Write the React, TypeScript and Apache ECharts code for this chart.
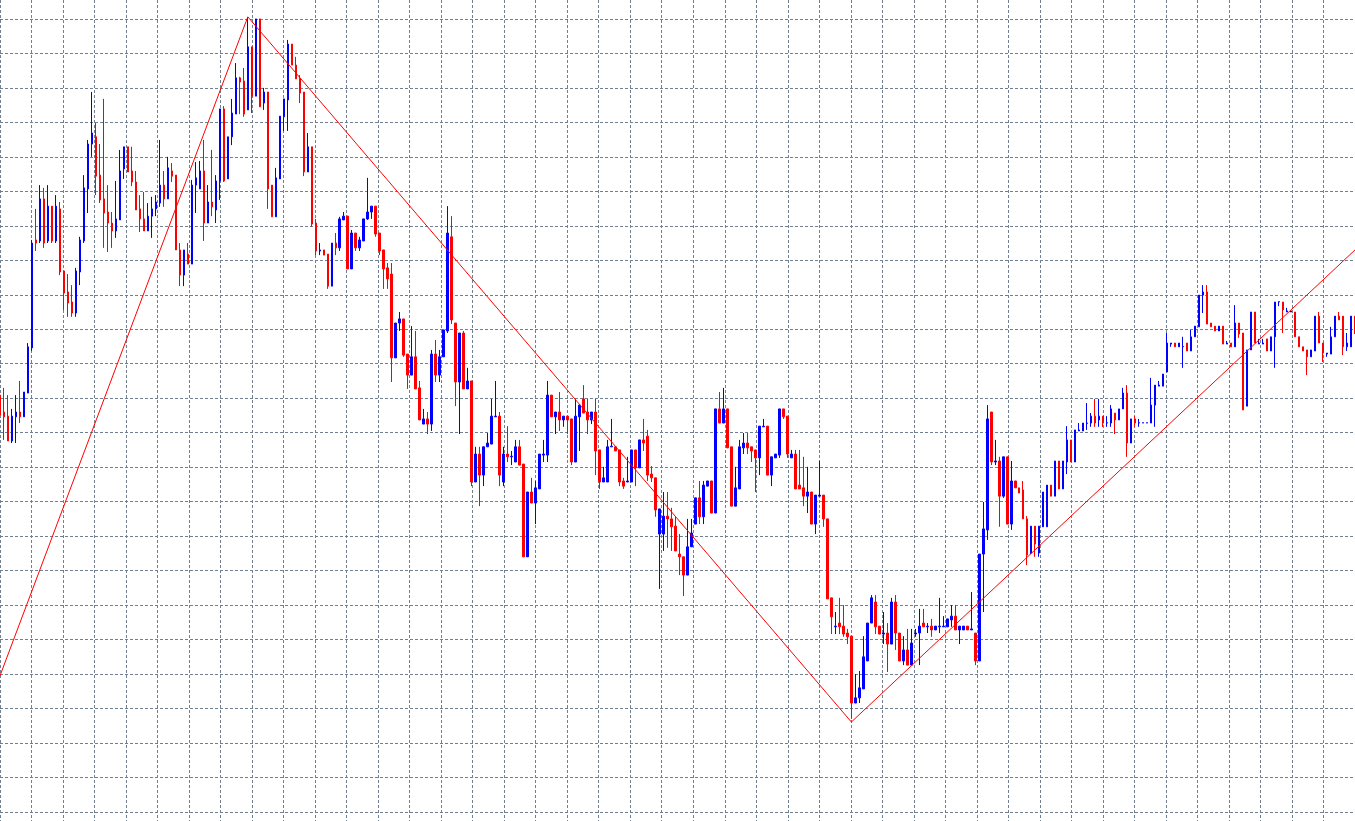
import React, { useEffect, useRef } from "react";
import * as echarts from "echarts";

// Price values (1 grid step = 10 units)
const open = [
  120.9,116.0,114.8,107.6,114.6,116.0,114.6,121.5,134.6,165.9,
  165.6,177.8,165.6,175.7,165.6,174.9,156.9,150.8,147.9,144.7,
  156.6,165.6,180.7,193.7,195.8,184.7,177.8,174.0,170.8,168.5,
  171.7,186.5,192.9,185.9,182.7,174.9,172.0,168.5,172.8,174.9,
  176.6,181.8,177.8,185.9,184.7,163.0,155.7,161.8,158.9,181.8,
  180.7,185.9,170.8,176.9,174.6,183.0,203.9,183.6,195.8,202.4,
  212.9,212.0,203.6,221.9,207.6,230.0,205.6,208.8,181.8,172.6,
  183.6,201.6,206.5,222.7,216.6,212.6,208.8,185.6,192.9,170.8,
  162.7,163.0,161.8,152.5,165.0,163.6,171.7,172.8,157.5,167.9,
  163.6,165.6,172.0,174.0,175.7,167.9,163.0,157.8,156.0,131.7,
  141.8,143.0,132.8,126.7,132.0,123.0,112.5,114.0,112.5,132.8,
  126.7,132.0,139.5,166.8,141.8,124.7,138.9,122.7,125.0,95.7,
  103.8,97.7,105.9,106.7,114.6,114.8,95.7,103.8,103.0,101.5,
  105.9,100.9,74.0,92.8,89.6,93.7,103.5,103.5,120.9,114.6,
  116.0,113.7,114.8,114.0,101.5,114.6,119.8,116.0,113.7,116.0,
  105.0,95.7,95.7,105.9,105.9,105.0,96.0,95.7,95.7,105.0,
  99.8,107.9,109.0,98.0,96.9,80.6,80.6,85.8,85.0,82.9,
  74.8,74.0,68.7,76.9,83.5,91.1,85.6,94.5,96.0,86.7,
  116.9,112.8,116.9,105.9,88.7,93.7,105.6,107.0,105.9,105.0,
  102.7,111.7,111.9,97.7,102.7,103.5,116.9,114.8,102.7,103.8,
  94.8,94.0,91.6,92.8,83.5,91.6,91.9,85.0,62.1,53.7,
  54.8,53.9,51.9,51.0,31.6,33.1,35.7,43.8,54.8,60.9,
  53.9,51.6,51.9,48.7,60.9,51.9,43.8,47.0,42.6,51.6,
  51.9,54.8,53.7,53.9,52.8,53.7,53.7,53.7,55.7,56.8,
  52.8,52.8,53.9,52.8,51.9,43.8,74.8,81.8,116.0,101.5,
  101.8,91.6,103.0,83.5,96.0,94.0,93.4,85.0,75.1,82.9,
  75.1,82.7,82.7,94.8,91.6,101.8,93.7,101.5,107.9,101.5,
  110.5,110.5,112.7,112.8,114.8,113.7,114.8,112.8,112.8,115.7,
  113.7,116.9,121.5,107.0,114.0,112.8,112.8,112.8,112.8,118.0,
  123.5,123.5,127.6,135.7,136.0,134.9,134.9,136.0,133.7,137.8,
  140.7,149.9,150.8,141.8,140.9,139.5,140.9,135.7,136.0,134.9,
  141.8,138.9,117.7,134.0,145.0,135.7,135.7,137.2,133.7,137.8,
  147.9,147.9,145.0,145.0,145.0,137.8,134.9,134.0,132.0,133.7,
  143.8,136.0,132.8,132.8,137.8,143.8,143.8,134.9,134.9,143.8,
];

const close = [
  115.1,114.6,107.6,114.8,116.0,114.6,121.8,134.9,165.0,165.0,
  177.8,165.0,175.7,165.6,175.7,156.6,150.5,147.6,144.7,156.9,
  165.9,181.0,193.7,196.9,184.4,177.5,173.7,170.8,168.5,172.0,
  185.9,192.9,185.6,182.7,174.6,172.0,168.5,172.8,174.9,176.9,
  181.8,177.8,186.8,184.4,163.0,155.7,163.0,158.9,181.8,183.9,
  185.9,170.8,176.9,175.5,183.0,203.9,183.0,195.8,202.7,212.9,
  211.7,202.4,221.9,207.6,230.0,204.5,208.8,180.7,172.6,183.9,
  201.8,206.8,222.7,216.6,212.6,208.5,185.6,192.9,170.5,162.7,
  163.0,161.5,152.5,165.0,163.6,172.0,172.8,157.5,167.9,163.6,
  165.9,172.0,174.0,175.7,167.6,162.7,157.5,154.6,131.7,141.8,
  143.0,132.5,126.7,132.0,122.7,113.7,114.0,112.5,132.8,126.7,
  132.0,139.8,167.9,142.7,124.7,138.9,122.7,125.0,95.7,103.8,
  97.7,105.9,107.0,114.8,114.8,97.7,103.8,103.0,103.2,105.9,
  100.6,74.0,92.8,89.6,94.0,103.8,103.8,120.9,114.6,116.0,
  113.7,114.8,113.7,101.5,114.8,118.0,115.7,113.7,116.0,104.7,
  95.7,96.9,105.9,106.1,104.7,95.7,94.5,96.0,105.0,99.8,
  107.9,107.0,97.7,96.9,87.6,87.9,85.8,85.0,82.7,75.7,
  74.0,68.7,76.9,80.9,91.1,85.6,94.8,96.0,86.7,116.9,
  112.8,116.9,105.6,88.7,94.0,105.9,107.0,105.6,104.7,102.7,
  111.9,111.9,97.7,103.0,103.8,116.9,114.6,103.8,103.8,93.7,
  93.7,91.6,92.8,83.5,91.9,91.9,85.0,61.8,56.6,53.9,
  53.7,51.6,50.8,31.6,33.1,36.0,45.0,54.8,62.1,53.7,
  51.6,51.9,48.7,60.9,51.9,43.8,47.0,42.6,49.0,51.9,
  53.9,53.7,53.9,52.8,53.9,53.9,53.9,56.0,56.8,52.8,
  53.9,53.9,52.8,53.1,43.8,74.8,82.1,114.0,101.5,101.8,
  91.6,103.0,83.5,96.0,94.0,92.5,85.0,74.5,82.9,77.7,
  82.9,92.8,94.8,91.6,101.8,93.7,101.8,107.9,101.5,110.8,
  110.8,112.8,112.8,114.8,112.8,114.8,112.8,112.9,116.9,113.7,
  116.9,121.5,107.0,114.0,112.8,112.9,112.9,112.9,118.0,123.8,
  123.8,127.0,136.0,136.0,134.9,136.0,135.0,133.7,137.8,140.9,
  149.9,150.8,141.5,140.7,139.5,140.9,135.7,136.0,134.9,141.8,
  138.6,116.6,134.0,145.0,136.0,136.0,136.0,133.7,137.8,147.9,
  148.0,145.6,145.3,145.3,137.8,134.9,133.7,132.0,134.0,143.8,
  136.0,133.1,133.1,137.8,143.8,142.7,134.9,136.0,143.8,139.8,
];

const low = [
  107.9,107.9,107.6,107.0,107.0,112.8,114.6,121.5,133.7,162.7,
  165.0,163.6,165.0,165.0,165.0,155.7,145.6,143.6,143.6,143.6,
  152.8,165.0,173.7,190.0,178.9,176.6,163.6,162.4,163.6,166.5,
  171.7,183.6,185.6,181.5,174.6,168.2,168.5,168.5,166.5,172.8,
  175.5,175.5,177.8,182.7,163.0,152.5,152.5,158.9,158.9,173.7,
  180.7,165.6,170.8,172.8,170.8,177.5,182.7,183.6,193.4,202.4,
  202.4,201.6,203.6,202.7,207.6,204.5,203.6,174.9,172.6,172.6,
  183.6,197.5,197.5,216.6,212.6,205.6,184.4,185.6,169.7,161.5,
  161.5,161.5,151.7,152.5,161.5,162.7,171.7,157.5,157.5,162.7,
  162.7,165.6,171.7,172.0,166.8,161.5,151.7,151.7,124.7,131.7,
  139.5,132.0,122.7,126.7,122.7,113.7,112.5,109.6,110.5,124.7,
  124.7,132.0,138.9,141.5,117.7,109.6,122.7,122.7,94.5,95.7,
  88.7,94.5,105.9,106.7,114.6,94.5,94.5,101.5,100.6,101.5,
  100.6,74.0,74.0,89.6,83.5,93.7,101.5,101.5,114.6,109.6,
  110.5,111.7,109.6,100.6,101.5,104.7,115.7,109.6,112.5,97.7,
  93.7,95.7,95.7,105.9,104.7,94.5,93.7,95.7,95.7,94.5,
  99.8,104.7,96.0,95.7,85.6,64.7,75.7,76.6,75.7,75.7,
  68.7,62.6,68.7,76.9,83.5,83.5,83.5,94.5,86.7,86.7,
  112.8,112.8,105.6,88.7,88.7,93.7,103.8,103.8,101.5,92.8,
  97.7,111.7,97.7,94.5,102.7,102.7,114.0,102.7,102.7,93.7,
  93.7,88.7,86.7,83.5,80.6,91.6,82.7,61.8,51.6,51.6,
  51.6,50.8,48.7,27.0,31.6,31.6,35.7,43.8,54.8,51.6,
  51.6,48.7,40.6,48.7,47.0,43.8,42.6,42.6,42.6,50.8,
  42.6,53.7,51.9,50.8,52.8,51.9,53.7,53.7,53.7,52.8,
  48.7,52.8,52.8,52.8,42.6,43.8,58.0,78.9,100.6,100.6,
  82.7,91.1,83.5,81.8,94.0,92.5,85.0,71.6,74.8,74.0,
  74.0,82.7,82.7,91.6,91.6,93.7,93.7,98.0,101.5,101.5,
  110.5,110.5,110.8,111.7,111.7,111.7,111.7,111.7,111.7,109.6,
  113.7,116.9,103.0,107.0,111.7,111.7,112.8,112.8,112.8,111.7,
  123.5,123.5,127.6,134.9,134.9,134.9,128.8,133.7,133.7,137.8,
  140.7,144.7,141.5,140.7,139.5,139.5,135.7,135.7,134.9,134.9,
  137.5,116.6,117.7,134.0,136.0,135.7,135.7,133.7,133.7,128.8,
  146.7,138.9,145.0,145.0,137.8,134.9,133.7,126.7,132.0,133.7,
  136.0,130.5,132.0,132.8,137.8,142.7,132.5,133.7,134.9,138.6,
];

const high = [
  125.3,123.0,120.9,116.9,120.9,125.0,121.8,136.0,165.9,174.9,
  181.8,181.0,181.8,175.7,178.9,176.9,156.9,156.0,152.8,157.8,
  166.8,184.7,194.9,208.8,199.8,193.7,206.8,181.8,174.0,183.0,
  192.0,192.9,192.9,192.9,185.9,178.9,179.8,176.6,178.4,178.9,
  194.9,185.9,190.0,188.2,184.7,165.0,163.0,165.0,183.3,188.5,
  188.8,194.9,181.8,192.0,184.7,203.9,204.7,195.8,206.8,217.2,
  213.2,215.8,230.3,221.9,230.0,230.0,210.0,208.8,181.8,186.8,
  201.8,206.8,223.9,222.7,219.0,213.7,208.8,196.9,192.9,172.0,
  165.0,163.0,161.8,165.0,167.9,172.6,174.0,172.8,168.8,167.9,
  166.8,172.0,183.9,175.7,175.7,167.9,163.0,159.2,159.2,141.8,
  145.0,143.0,132.8,140.9,139.5,125.0,116.9,116.0,134.0,136.9,
  134.0,139.8,175.7,172.8,141.8,138.9,139.5,128.8,125.0,105.9,
  105.9,105.9,109.9,119.8,125.0,116.0,105.9,111.9,104.7,107.9,
  107.9,100.9,92.8,96.9,96.0,103.8,107.9,125.0,120.9,116.0,
  121.8,114.8,114.8,114.0,119.8,118.0,123.8,119.8,116.0,119.8,
  105.0,100.1,107.9,114.0,105.9,105.0,96.9,103.0,105.0,105.0,
  107.9,114.0,110.8,100.3,96.9,87.9,92.8,92.8,88.2,85.6,
  80.6,74.0,85.0,85.0,91.1,96.0,96.0,96.0,96.0,116.9,
  121.8,123.0,116.9,105.9,100.1,107.9,109.9,109.9,105.9,105.0,
  111.9,114.0,111.9,103.0,103.8,116.9,116.9,114.8,105.0,105.0,
  105.0,103.0,100.1,92.8,91.9,101.8,91.9,85.0,62.1,58.0,
  62.1,60.0,53.1,51.0,40.0,40.9,51.0,54.8,62.9,62.9,
  53.9,58.0,54.8,62.1,62.9,51.9,51.0,53.1,53.1,53.1,
  58.9,58.9,54.8,56.0,53.9,62.1,56.8,56.0,60.0,60.0,
  53.9,53.9,53.9,63.8,51.9,74.8,89.9,118.0,116.0,107.9,
  103.0,103.0,103.0,101.8,96.0,94.0,96.0,85.8,82.9,82.9,
  82.9,92.8,94.8,94.8,101.8,101.8,101.8,111.9,107.9,110.8,
  112.8,112.8,118.6,115.7,119.8,119.8,114.8,114.8,118.0,115.7,
  116.9,123.0,123.8,114.0,114.8,114.0,112.9,112.9,125.9,123.8,
  125.0,127.0,138.9,136.0,136.0,136.0,137.8,136.0,139.8,140.9,
  149.9,152.8,152.8,141.8,140.9,140.9,140.9,136.6,136.0,147.0,
  141.8,138.9,134.0,145.0,145.0,137.2,137.2,137.2,137.8,147.9,
  148.0,147.9,146.2,145.3,145.0,137.8,134.9,134.0,134.0,143.8,
  145.0,136.0,133.1,140.7,143.8,145.0,143.8,138.9,143.8,143.8,
];

// Zig-zag trend line (bar index, price)
const trendIndex = [0, 62, 213, 339];
const trendPrice = [39.5, 230.6, 26.1, 163.0];

// Price grid levels
const gridMin = 0;
const gridMax = 230;
const gridStep = 10;

// Time grid: a vertical line every 8 bars, counted from bar 3
const timeGridOffset = 3;
const timeGridStep = 8;

// Visible price range of the window
const priceMin = -2.61;
const priceMax = 235.48;

const categories = open.map((_, i) => String(i));

export default function App() {
  const ref = useRef<HTMLDivElement>(null);

  useEffect(() => {
    document.body.style.margin = "0";
    if (!ref.current) return;
    const chart = echarts.init(ref.current, undefined, { renderer: "svg" });
    const candles = open.map((o, i) => [o, close[i], low[i], high[i]]);
    const trend = trendIndex.map((x, i) => [x, trendPrice[i]]);
    const gridLine = { color: "#708090", width: 1, type: [3, 2] as any };

    const n = categories.length;
    const barPx = 4;
    const firstCenter = -0.7;
    // time-grid axis in "bars since bar 3" units, starting one step earlier
    const tMin = -timeGridStep;
    const tMax = n - 1 - timeGridOffset;

    chart.setOption({
      animation: false,
      backgroundColor: "#ffffff",
      grid: [
        { left: firstCenter, width: (n - 1) * barPx, top: 0, bottom: 0, containLabel: false },
        { left: 0, right: 0, top: 18.9, bottom: 9, containLabel: false },
        {
          left: firstCenter + (tMin + timeGridOffset) * barPx,
          width: (tMax - tMin) * barPx,
          top: 0,
          bottom: 0,
          containLabel: false,
        },
      ],
      xAxis: [
        {
          type: "category",
          gridIndex: 0,
          data: categories,
          boundaryGap: false,
          show: false,
        },
        { type: "value", gridIndex: 0, min: 0, max: n - 1, show: false },
        { type: "value", gridIndex: 1, min: 0, max: 1, show: false },
        {
          type: "value",
          gridIndex: 2,
          min: tMin,
          max: tMax,
          interval: timeGridStep,
          axisLine: { show: false },
          axisTick: { show: false },
          axisLabel: { show: false },
          splitLine: { show: true, lineStyle: gridLine },
        },
      ],
      yAxis: [
        { type: "value", gridIndex: 0, min: priceMin, max: priceMax, show: false },
        {
          type: "value",
          gridIndex: 1,
          min: gridMin,
          max: gridMax,
          interval: gridStep,
          axisLine: { show: false },
          axisTick: { show: false },
          axisLabel: { show: false },
          splitLine: { show: true, lineStyle: gridLine },
        },
        { type: "value", gridIndex: 2, min: 0, max: 1, show: false },
      ],
      series: [
        {
          type: "candlestick",
          xAxisIndex: 0,
          yAxisIndex: 0,
          data: candles,
          barWidth: 2,
          clip: false,
          itemStyle: {
            color: "#0000ff",
            color0: "#ff0000",
            borderColor: "#0000ff",
            borderColor0: "#ff0000",
            borderWidth: 1,
          },
          z: 2,
        },
        {
          type: "line",
          xAxisIndex: 1,
          yAxisIndex: 0,
          data: trend,
          symbol: "none",
          lineStyle: { color: "#ff0000", width: 1 },
          z: 3,
          silent: true,
        },
      ],
    });
    return () => chart.dispose();
  }, []);

  return (
    <div
      ref={ref}
      style={{ position: "fixed", left: 0, top: 0, width: 1355, height: 821, background: "#fff" }}
    />
  );
}
